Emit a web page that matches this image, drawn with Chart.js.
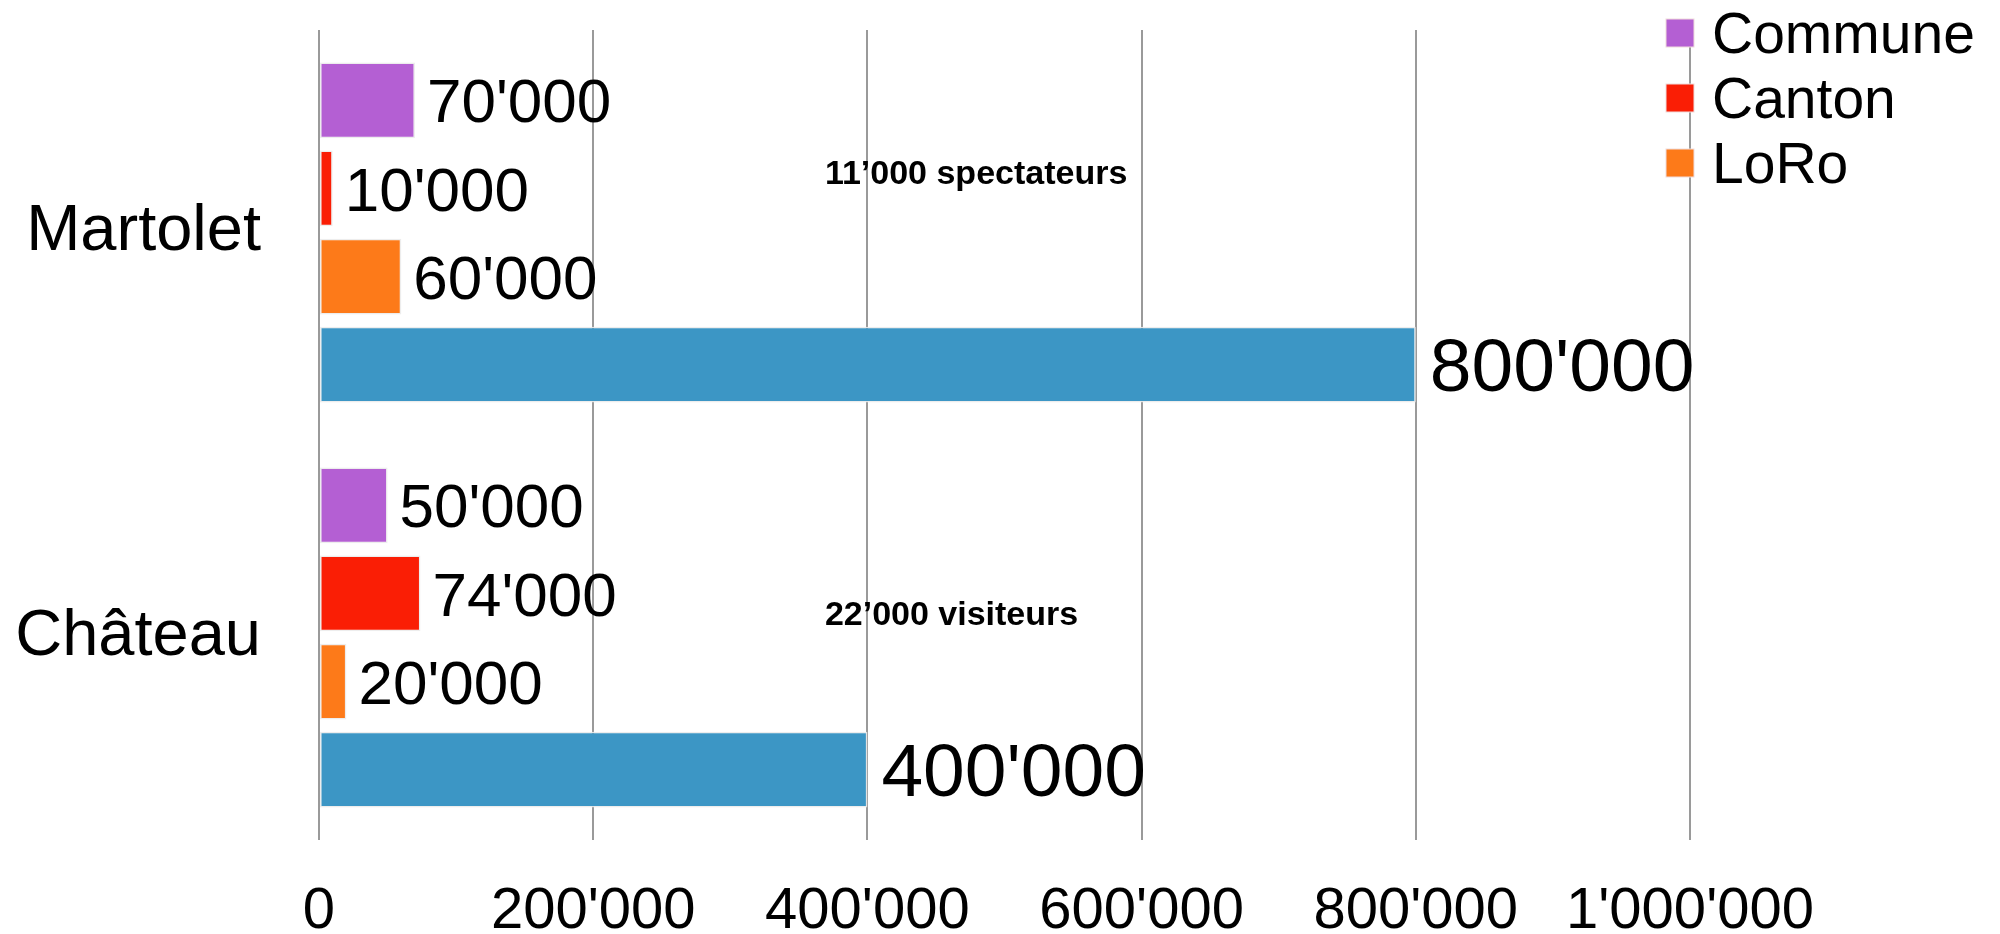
<!DOCTYPE html>
<html>
<head>
<meta charset="utf-8">
<script src="https://cdn.jsdelivr.net/npm/chart.js@4.4.1/dist/chart.umd.min.js"></script>
<style>
  html, body { margin: 0; padding: 0; background: #fff; }
  #wrap { width: 2000px; height: 934px; }
</style>
</head>
<body>
<div id="wrap"><canvas id="barChart" width="2000" height="934"></canvas></div>
<script>
// données
const categories = ['Martolet', 'Château'];
const commune = [70000, 50000];
const canton = [10000, 74000];
const loro = [60000, 20000];
const total = [800000, 400000];
const xTicks = [0, 200000, 400000, 600000, 800000, 1000000];
const notes = ['11’000 spectateurs', '22’000 visiteurs'];

const FONT = "'Liberation Sans', Arial, sans-serif";

function fmt(v) {
  return String(v).replace(/\B(?=(\d{3})+(?!\d))/g, "'");
}

// étiquettes de valeur à droite des barres + annotations
const labelsPlugin = {
  id: 'valueLabels',
  afterDatasetsDraw(chart) {
    const ctx = chart.ctx;
    ctx.save();
    ctx.fillStyle = '#000';
    ctx.textBaseline = 'middle';
    ctx.textAlign = 'left';
    chart.data.datasets.forEach((ds, i) => {
      const big = ds.bigLabel;
      ctx.font = (big ? 75 : 62) + 'px ' + FONT;
      chart.getDatasetMeta(i).data.forEach((bar, j) => {
        ctx.fillText(fmt(ds.data[j]), bar.x + (big ? 14 : 12), bar.y + (big ? 6 : 5));
      });
    });
    // annotations
    const xs = chart.scales.x, ys = chart.scales.y;
    const noteY = [-0.144, 0.946];
    ctx.font = 'bold 34px ' + FONT;
    notes.forEach((t, k) => {
      ctx.fillText(t, xs.getPixelForValue(369000), ys.getPixelForValue(noteY[k]));
    });
    ctx.restore();
  }
};

// légende dessinée à la main (sans la série bleue)
const legendPlugin = {
  id: 'customLegend',
  afterDraw(chart) {
    const ctx = chart.ctx;
    const a = chart.chartArea;
    ctx.save();
    ctx.font = '57px ' + FONT;
    ctx.textBaseline = 'middle';
    ctx.textAlign = 'left';
    let y = 33;
    chart.data.datasets.forEach(ds => {
      if (ds.hideInLegend) return;
      ctx.fillStyle = ds.backgroundColor;
      ctx.fillRect(a.right - 24, y - 14, 28, 28);
      ctx.strokeStyle = '#f0dcdc';
      ctx.lineWidth = 1;
      ctx.strokeRect(a.right - 24, y - 14, 28, 28);
      ctx.fillStyle = '#000';
      ctx.fillText(ds.label, a.right + 22, y + 4);
      y += 65;
    });
    ctx.restore();
  }
};

const ctx = document.getElementById('barChart');
new Chart(ctx, {
  type: 'bar',
  data: {
    labels: categories,
    datasets: [
      { label: 'Commune', data: commune, backgroundColor: '#b45fd3' },
      { label: 'Canton', data: canton, backgroundColor: '#fa1e05' },
      { label: 'LoRo', data: loro, backgroundColor: '#fd7a19' },
      { label: 'Total', data: total, backgroundColor: '#3c96c5', hideInLegend: true, bigLabel: true }
    ]
  },
  options: {
    indexAxis: 'y',
    responsive: false,
    animation: false,
    devicePixelRatio: 1,
    layout: { padding: { top: 30, right: 310, left: 0, bottom: 0 } },
    datasets: {
      bar: {
        categoryPercentage: 0.87,
        barPercentage: 0.86,
        borderColor: 'rgba(235,235,235,0.9)',
        borderWidth: 1.5,
        borderSkipped: false
      }
    },
    plugins: {
      legend: { display: false },
      tooltip: { enabled: false }
    },
    scales: {
      x: {
        min: 0,
        max: 1000000,
        afterBuildTicks(scale) {
          scale.ticks = xTicks.map(v => ({ value: v }));
        },
        afterFit(scale) { scale.height = 94; },
        grid: { color: '#9a9a9a', lineWidth: 2, drawTicks: false },
        border: { display: false },
        ticks: {
          color: '#000',
          font: { family: FONT, size: 58 },
          padding: 37,
          maxRotation: 0,
          autoSkip: false,
          callback: v => fmt(v)
        }
      },
      y: {
        afterFit(scale) {
          scale.width = 319;
          scale.paddingTop = 0;
          scale.paddingBottom = 0;
        },
        grid: { display: false, drawTicks: false },
        border: { display: false },
        ticks: {
          color: '#000',
          font: { family: FONT, size: 65 },
          padding: 58
        }
      }
    }
  },
  plugins: [labelsPlugin, legendPlugin]
});
</script>
</body>
</html>
